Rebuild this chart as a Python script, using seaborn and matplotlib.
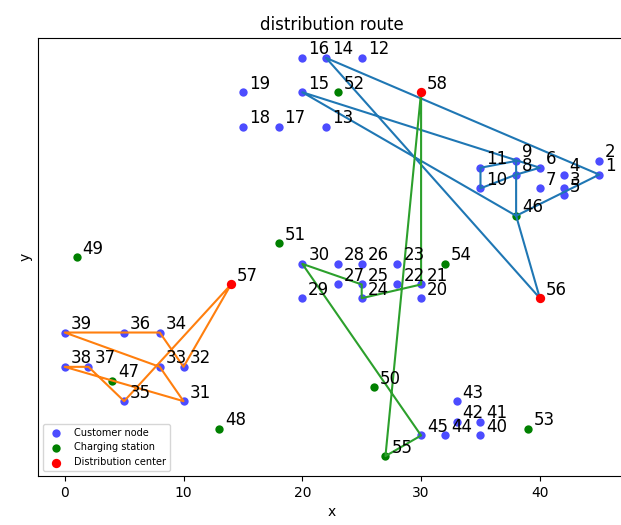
import matplotlib.pyplot as plt
import seaborn as sns

# node coordinates (ids 1..58)
customer_ids = list(range(1, 46))
customer_x = [45, 45, 42, 42, 42, 40, 40, 38, 38, 35, 35, 25, 22, 22, 20, 20, 18, 15, 15,
              30, 30, 28, 28, 25, 25, 25, 23, 23, 20, 20,
              10, 10, 8, 8, 5, 5, 2, 0, 0,
              35, 35, 33, 33, 32, 30]
customer_y = [41, 43, 39, 41, 38, 42, 39, 41, 43, 39, 42, 58, 48, 58, 53, 58, 48, 48, 53,
              23, 25, 25, 28, 23, 25, 28, 25, 28, 23, 28,
              8, 13, 13, 18, 8, 18, 13, 13, 18,
              3, 5, 5, 8, 3, 3]

station_ids = list(range(46, 56))
station_x = [38, 4, 13, 1, 26, 18, 23, 39, 32, 27]
station_y = [35, 11, 4, 29, 10, 31, 53, 4, 28, 0]

depot_ids = [56, 57, 58]
depot_x = [40, 14, 30]
depot_y = [23, 25, 53]

# vehicle routes (node ids in visiting order)
route_1 = [56, 14, 1, 46, 9, 11, 10, 8, 6, 15, 46, 56]
route_2 = [57, 32, 34, 36, 39, 33, 31, 47, 38, 37, 35, 57]
route_3 = [58, 21, 24, 25, 30, 45, 55, 58]

node_x = dict(zip(customer_ids + station_ids + depot_ids, customer_x + station_x + depot_x))
node_y = dict(zip(customer_ids + station_ids + depot_ids, customer_y + station_y + depot_y))

fig = plt.figure(figsize=(6.21, 5.25), dpi=100)
ax = fig.add_axes([38 / 621, 49 / 525, 588 / 621, 438 / 525])

sns.scatterplot(x=customer_x, y=customer_y, color="blue", alpha=0.7, s=36,
                linewidth=0, label="Customer node", ax=ax, zorder=2)
sns.scatterplot(x=station_x, y=station_y, color="green", s=36,
                linewidth=0, label="Charging station", ax=ax, zorder=2)

for route, color in zip([route_1, route_2, route_3], ["#1f77b4", "#ff7f0e", "#2ca02c"]):
    xs = [node_x[n] for n in route]
    ys = [node_y[n] for n in route]
    sns.lineplot(x=xs, y=ys, sort=False, estimator=None, color=color,
                 linewidth=1.5, ax=ax, zorder=3)

sns.scatterplot(x=depot_x, y=depot_y, color="red", s=45,
                linewidth=0, label="Distribution center", ax=ax, zorder=4)

for n in node_x:
    ax.text(node_x[n] + 0.5, node_y[n] + 0.5, str(n), fontsize=12)

ax.set_xlim(-2.25, 47.25)
ax.set_ylim(-2.9, 60.9)
ax.set_yticks([])
ax.set_xlabel("x")
ax.set_ylabel("y")
ax.set_title("distribution route")
ax.legend(loc="lower left", fontsize=7)

plt.savefig("out.png")
plt.close()
